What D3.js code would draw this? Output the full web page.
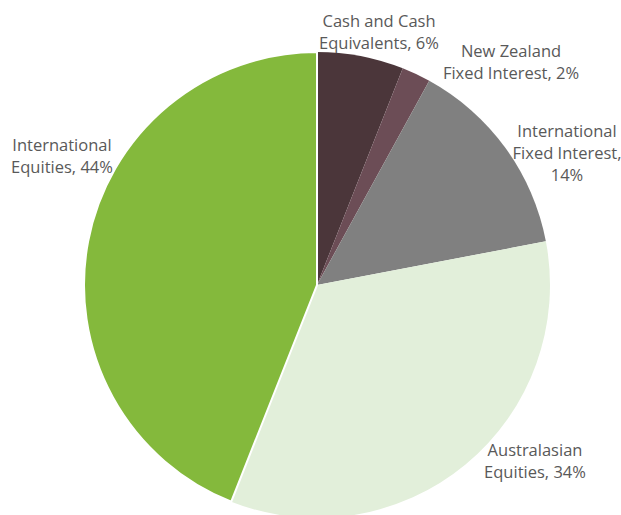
<!DOCTYPE html>
<html>
<head>
<meta charset="utf-8">
<script src="https://cdn.jsdelivr.net/npm/d3@7"></script>
<style>
  body { margin: 0; background: #fff; }
  svg text { font-family: "Open Sans", sans-serif; font-size: 16.5px; fill: #595959; }
</style>
</head>
<body>
<div id="chart"></div>
<script>
// data
const categories = ["Cash and Cash Equivalents", "New Zealand Fixed Interest", "International Fixed Interest", "Australasian Equities", "International Equities"];
const values = [6, 2, 14, 34, 44];
const colors = ["#4b363a", "#6c4d56", "#808080", "#e2efda", "#84b93c"];
// label lines as shown in the chart
const labelLines = [
    ["Cash and Cash", "Equivalents, 6%"],
    ["New Zealand", "Fixed Interest, 2%"],
    ["International", "Fixed Interest,", "14%"],
    ["Australasian", "Equities, 34%"],
    ["International", "Equities, 44%"]
];

const width = 621, height = 515;
const cx = 317, cy = 285, radius = 233;

// where each label block sits (centre x, first baseline y), like the excel layout
const labelPos = [[379, 27], [511, 57], [567, 137], [535, 456], [62, 151]];
const lineH = 22;

const svg = d3.select("#chart").append("svg")
    .attr("width", width)
    .attr("height", height);

const g = svg.append("g").attr("transform", `translate(${cx},${cy})`);

const data = categories.map((c, i) => ({ name: c, value: values[i], color: colors[i], lines: labelLines[i] }));

const pie = d3.pie().sort(null).value(d => d.value);
const arc = d3.arc().innerRadius(0).outerRadius(radius);
const arcs = pie(data);

g.selectAll("path")
    .data(arcs)
    .join("path")
    .attr("d", arc)
    .attr("fill", d => d.data.color)
    .attr("stroke", d => d.index == 4 ? "#fff" : "none")
    .attr("stroke-width", 2);

const labels = svg.selectAll("text.lbl")
    .data(arcs)
    .join("text")
    .attr("class", "lbl")
    .attr("text-anchor", "middle")
    .attr("transform", d => `translate(${labelPos[d.index][0]},${labelPos[d.index][1]})`);

labels.selectAll("tspan")
    .data(d => d.data.lines)
    .join("tspan")
    .attr("x", 0)
    .attr("dy", (d, i) => i == 0 ? 0 : lineH)
    .text(d => d);
</script>
</body>
</html>
